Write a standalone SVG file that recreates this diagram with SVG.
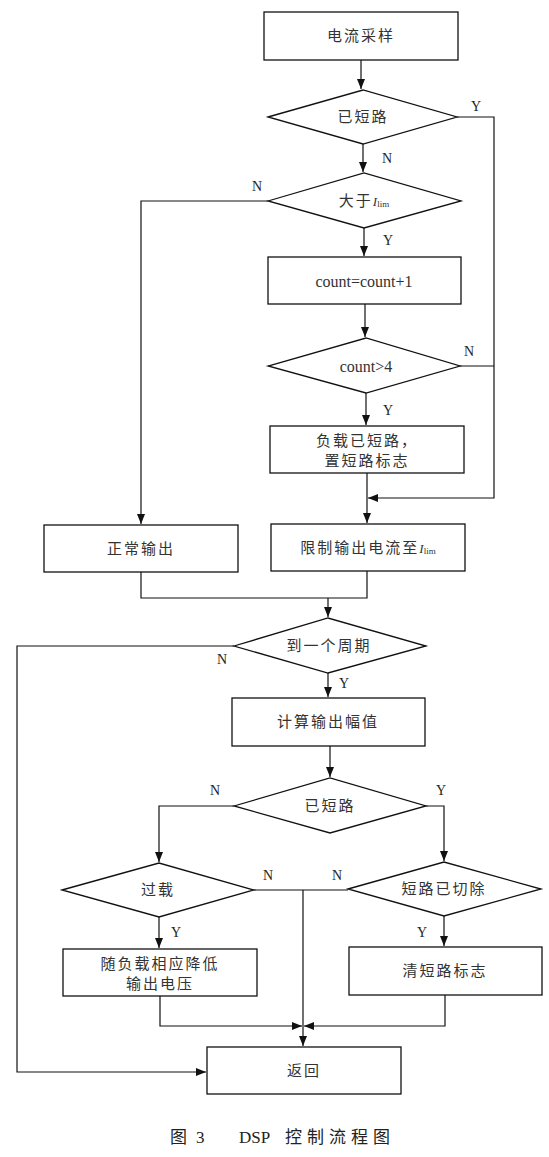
<svg xmlns="http://www.w3.org/2000/svg" width="549" height="1157" viewBox="0 0 549 1157">
<style>
.box{fill:#fff;stroke:#111;stroke-width:1.3}
.ln{fill:none;stroke:#111;stroke-width:1.2}
.t{font-family:"Liberation Serif","Noto Sans CJK SC",serif;font-size:15px;fill:#333;text-anchor:middle;dominant-baseline:central;letter-spacing:2px}
.lat{font-size:16px;letter-spacing:0}
.sub{font-size:9px;letter-spacing:0}
.it{font-style:italic;font-size:13px;letter-spacing:0}
.lb{font-family:"Liberation Serif",serif;font-size:14px;fill:#222;text-anchor:middle;dominant-baseline:central}
.cap{font-family:"Liberation Serif","Noto Sans CJK SC",serif;font-size:17px;fill:#222}
</style>
<defs>
<marker id="ah" markerUnits="userSpaceOnUse" markerWidth="10" markerHeight="8" refX="10" refY="4" orient="auto">
<path d="M0,0 L10,4 L0,8 z" fill="#111"/>
</marker>
</defs>
<rect width="549" height="1157" fill="#fff"/>

<g id="connectors">
<path class="ln" d="M361,60 V89" marker-end="url(#ah)"/>
<path class="ln" d="M363,144 V172" marker-end="url(#ah)"/>
<path class="ln" d="M364,228 V256" marker-end="url(#ah)"/>
<path class="ln" d="M365,304 V337" marker-end="url(#ah)"/>
<path class="ln" d="M366,393 V425" marker-end="url(#ah)"/>
<path class="ln" d="M367,473 V523" marker-end="url(#ah)"/>
<path class="ln" d="M457,117 H494 V498 H368" marker-end="url(#ah)"/>
<path class="ln" d="M460,366 H494"/>
<path class="ln" d="M268,201 H141 V524" marker-end="url(#ah)"/>
<path class="ln" d="M141,572 V598 H367 V571"/>
<path class="ln" d="M328,598 V617" marker-end="url(#ah)"/>
<path class="ln" d="M234,646 H17 V1072 H206" marker-end="url(#ah)"/>
<path class="ln" d="M328,673 V697" marker-end="url(#ah)"/>
<path class="ln" d="M330,746 V777" marker-end="url(#ah)"/>
<path class="ln" d="M234,806 H159 V862" marker-end="url(#ah)"/>
<path class="ln" d="M426,806 H444 V861" marker-end="url(#ah)"/>
<path class="ln" d="M254,890 H348"/>
<path class="ln" d="M303,890 V1046" marker-end="url(#ah)"/>
<path class="ln" d="M159,917 V948" marker-end="url(#ah)"/>
<path class="ln" d="M444,916 V946" marker-end="url(#ah)"/>
<path class="ln" d="M160,996 V1026 H302" marker-end="url(#ah)"/>
<path class="ln" d="M445,995 V1026 H304" marker-end="url(#ah)"/>
</g>

<g id="labels">
<text class="lb" x="476" y="106">Y</text>
<text class="lb" x="387" y="158">N</text>
<text class="lb" x="257" y="186">N</text>
<text class="lb" x="388" y="240">Y</text>
<text class="lb" x="469" y="351">N</text>
<text class="lb" x="388" y="410">Y</text>
<text class="lb" x="222" y="659">N</text>
<text class="lb" x="344" y="683">Y</text>
<text class="lb" x="215" y="790">N</text>
<text class="lb" x="441" y="790">Y</text>
<text class="lb" x="268" y="875">N</text>
<text class="lb" x="337" y="875">N</text>
<text class="lb" x="176" y="932">Y</text>
<text class="lb" x="422" y="932">Y</text>
</g>

<g id="n1"><rect class="box" x="264" y="12" width="194" height="48"/><text class="t" x="361" y="36">电流采样</text></g>
<g id="d1"><polygon class="box" points="268,117 363,90 457,117 363,144"/><text class="t" x="363" y="117">已短路</text></g>
<g id="d2"><polygon class="box" points="268,201 364,173 461,201 364,228"/><text class="t" x="364" y="201">大于<tspan class="it">I</tspan><tspan class="sub" dy="3">lim</tspan></text></g>
<g id="b2"><rect class="box" x="268" y="257" width="193" height="47"/><text class="t lat" x="364" y="281">count=count+1</text></g>
<g id="d3"><polygon class="box" points="268,366 366,338 460,366 366,393"/><text class="t lat" x="366" y="366">count&gt;4</text></g>
<g id="b3"><rect class="box" x="270" y="426" width="194" height="47"/><text class="t" x="367" y="441">负载已短路，</text><text class="t" x="367" y="461">置短路标志</text></g>
<g id="b4"><rect class="box" x="44" y="525" width="194" height="47"/><text class="t" x="141" y="549">正常输出</text></g>
<g id="b5"><rect class="box" x="271" y="524" width="194" height="47"/><text class="t" x="368" y="548">限制输出电流至<tspan class="it">I</tspan><tspan class="sub" dy="3">lim</tspan></text></g>
<g id="d4"><polygon class="box" points="234,646 328,618 426,646 328,673"/><text class="t" x="329" y="646">到一个周期</text></g>
<g id="b6"><rect class="box" x="232" y="698" width="193" height="48"/><text class="t" x="328" y="722">计算输出幅值</text></g>
<g id="d5"><polygon class="box" points="234,806 330,778 426,806 330,833"/><text class="t" x="330" y="806">已短路</text></g>
<g id="d6"><polygon class="box" points="62,890 159,863 254,890 159,917"/><text class="t" x="158" y="890">过载</text></g>
<g id="d7"><polygon class="box" points="348,889 444,862 541,889 444,916"/><text class="t" x="444" y="889">短路已切除</text></g>
<g id="b7"><rect class="box" x="63" y="949" width="194" height="47"/><text class="t" x="160" y="964">随负载相应降低</text><text class="t" x="160" y="984">输出电压</text></g>
<g id="b8"><rect class="box" x="349" y="947" width="193" height="48"/><text class="t" x="445" y="971">清短路标志</text></g>
<g id="b9"><rect class="box" x="207" y="1047" width="194" height="47"/><text class="t" x="304" y="1071">返回</text></g>

<g id="caption">
<text class="cap" x="170" y="1143">图</text>
<text class="cap" x="196" y="1143">3</text>
<text class="cap" x="239" y="1143">DSP</text>
<text class="cap" x="285" y="1143" style="letter-spacing:5px">控制流程图</text>
</g>
</svg>
